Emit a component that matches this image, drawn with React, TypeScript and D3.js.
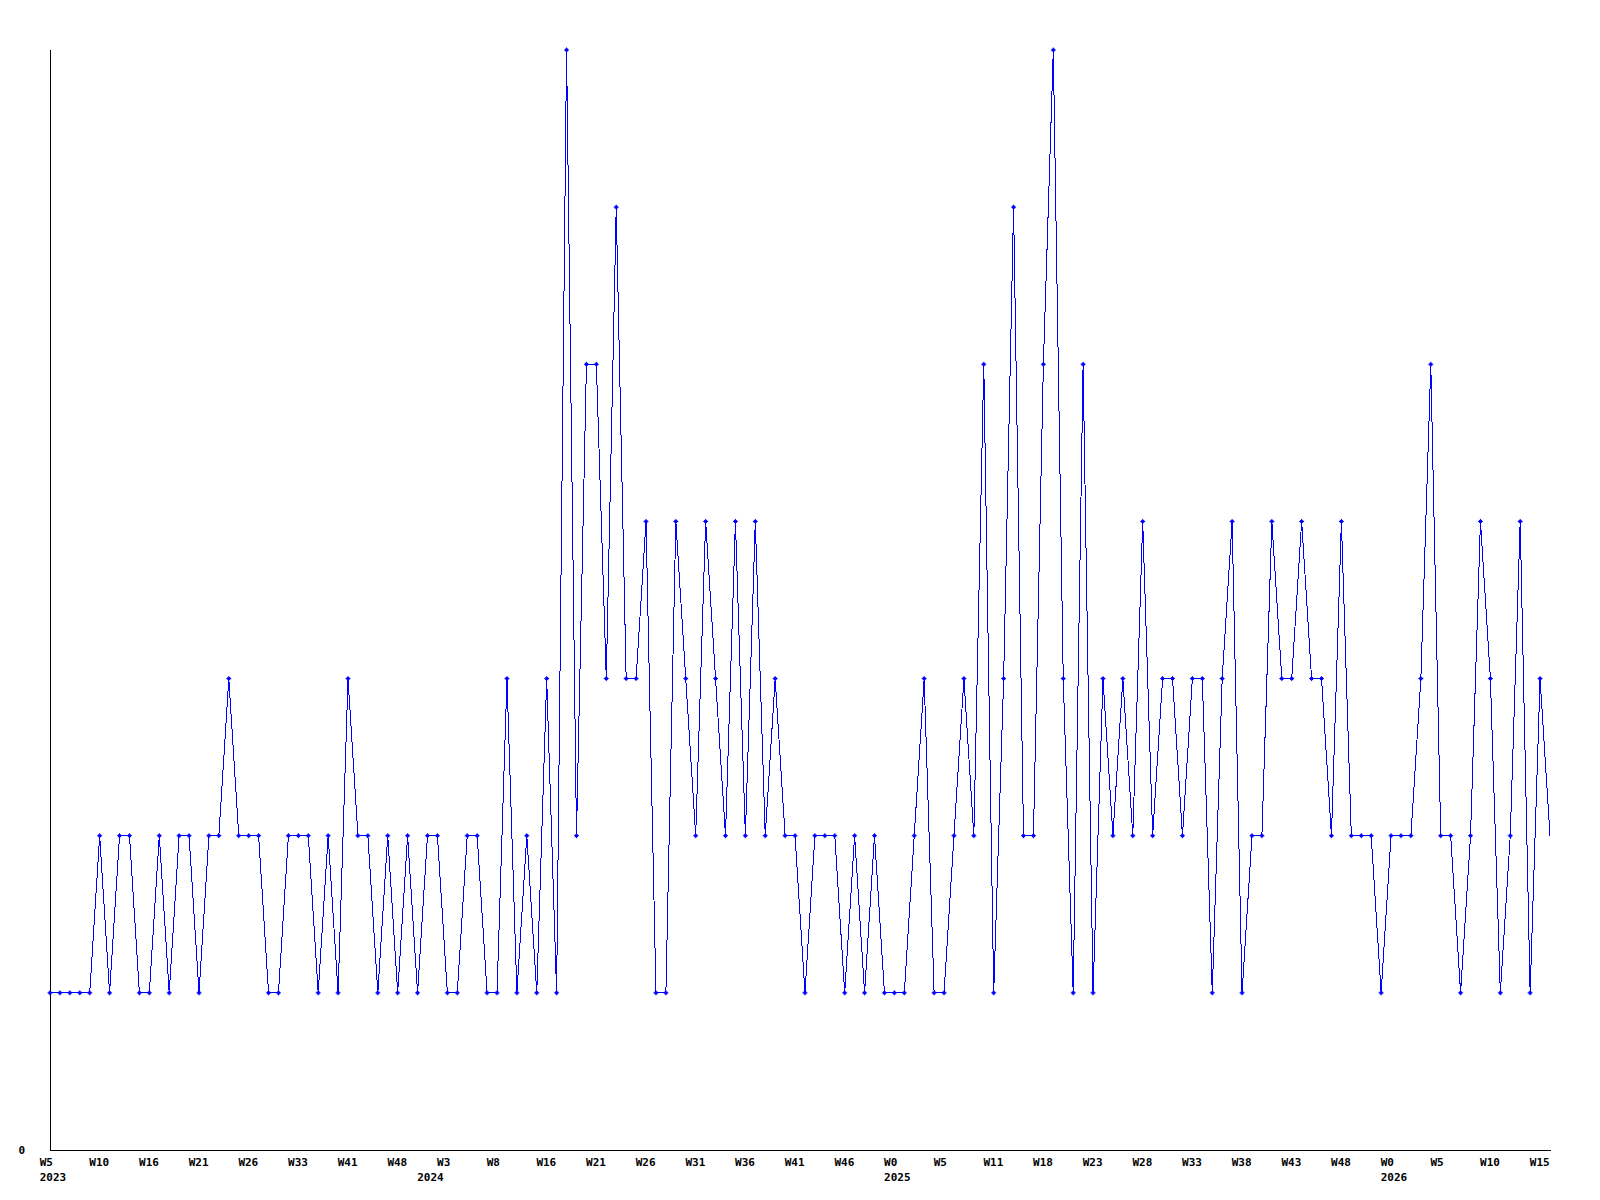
import React from "react";
import * as d3 from "d3";

const values: number[] = [
  1, 1, 1, 1, 1, 2, 1, 2, 2, 1,
  1, 2, 1, 2, 2, 1, 2, 2, 3, 2,
  2, 2, 1, 1, 2, 2, 2, 1, 2, 1,
  3, 2, 2, 1, 2, 1, 2, 1, 2, 2,
  1, 1, 2, 2, 1, 1, 3, 1, 2, 1,
  3, 1, 7, 2, 5, 5, 3, 6, 3, 3,
  4, 1, 1, 4, 3, 2, 4, 3, 2, 4,
  2, 4, 2, 3, 2, 2, 1, 2, 2, 2,
  1, 2, 1, 2, 1, 1, 1, 2, 3, 1,
  1, 2, 3, 2, 5, 1, 3, 6, 2, 2,
  5, 7, 3, 1, 5, 1, 3, 2, 3, 2,
  4, 2, 3, 3, 2, 3, 3, 1, 3, 4,
  1, 2, 2, 4, 3, 3, 4, 3, 3, 2,
  4, 2, 2, 2, 1, 2, 2, 2, 3, 5,
  2, 2, 1, 2, 4, 3, 1, 2, 4, 1,
  3, 2,
];

const weekLabels: string[] = [
  "W5", "W10", "W16", "W21", "W26", "W33", "W41", "W48", "W3", "W8",
  "W16", "W21", "W26", "W31", "W36", "W41", "W46", "W0", "W5", "W11",
  "W18", "W23", "W28", "W33", "W38", "W43", "W48", "W0", "W5", "W10",
  "W15",
];
const weekLabelStep = 5;

const yearLabels: string[] = ["2023", "2024", "2025", "2026"];
const yearLabelIndex: number[] = [0, 38, 85, 135];

const yTicks: number[] = [0];

const W = 1600;
const H = 1200;
const left = 50;
const right = 1550;
const top = 50;
const bottom = 1150;

export default function App() {
  const idx = values.map((_, i) => i);
  const x = d3.scalePoint<number>().domain(idx).range([left, right]);
  const y = d3.scaleLinear().domain([0, 7]).range([bottom, top]);
  const line = d3
    .line<number>()
    .x((_, i) => x(i) as number)
    .y((d) => y(d));
  const font = "'DejaVu Sans Mono', monospace";
  const blue = "#0000ff";

  return (
    <svg
      width={W}
      height={H}
      style={{ position: "absolute", left: 0, top: 0, background: "#fff" }}
    >
      <rect x={0} y={0} width={W} height={H} fill="#fff" />
      <line x1={left + 0.5} y1={top} x2={left + 0.5} y2={bottom + 0.5} stroke="#000" strokeWidth={1} />
      <line x1={left} y1={bottom + 0.5} x2={right + 1} y2={bottom + 0.5} stroke="#000" strokeWidth={1} />
      {yTicks.map((t) => (
        <text
          key={"yt" + t}
          x={25}
          y={y(t) + 3.5}
          textAnchor="end"
          fontFamily={font}
          fontWeight="bold"
          fontSize={11}
          fill="#000"
        >
          {t}
        </text>
      ))}
      {weekLabels.map((lab, k) => (
        <text
          key={"wl" + k}
          x={(x(k * weekLabelStep) as number) - 10.3}
          y={1166}
          fontFamily={font}
          fontWeight="bold"
          fontSize={11}
          fill="#000"
        >
          {lab}
        </text>
      ))}
      {yearLabels.map((lab, k) => (
        <text
          key={"yl" + k}
          x={(x(yearLabelIndex[k]) as number) - 10.3}
          y={1181}
          fontFamily={font}
          fontWeight="bold"
          fontSize={11}
          fill="#000"
        >
          {lab}
        </text>
      ))}
      <path d={line(values) || ""} fill="none" stroke={blue} strokeWidth={1} shapeRendering="crispEdges" />
      {values.slice(0, values.length - 1).map((v, i) => {
        const cx = x(i) as number;
        const cy = y(v);
        return (
          <g key={"m" + i} transform={`translate(${cx},${cy})`}>
            <path d="M-2.5,0H2.5M0,-2.5V2.5" stroke={blue} strokeWidth={1} />
            <rect x={-1.5} y={-1.5} width={3} height={3} fill={blue} />
          </g>
        );
      })}
    </svg>
  );
}
